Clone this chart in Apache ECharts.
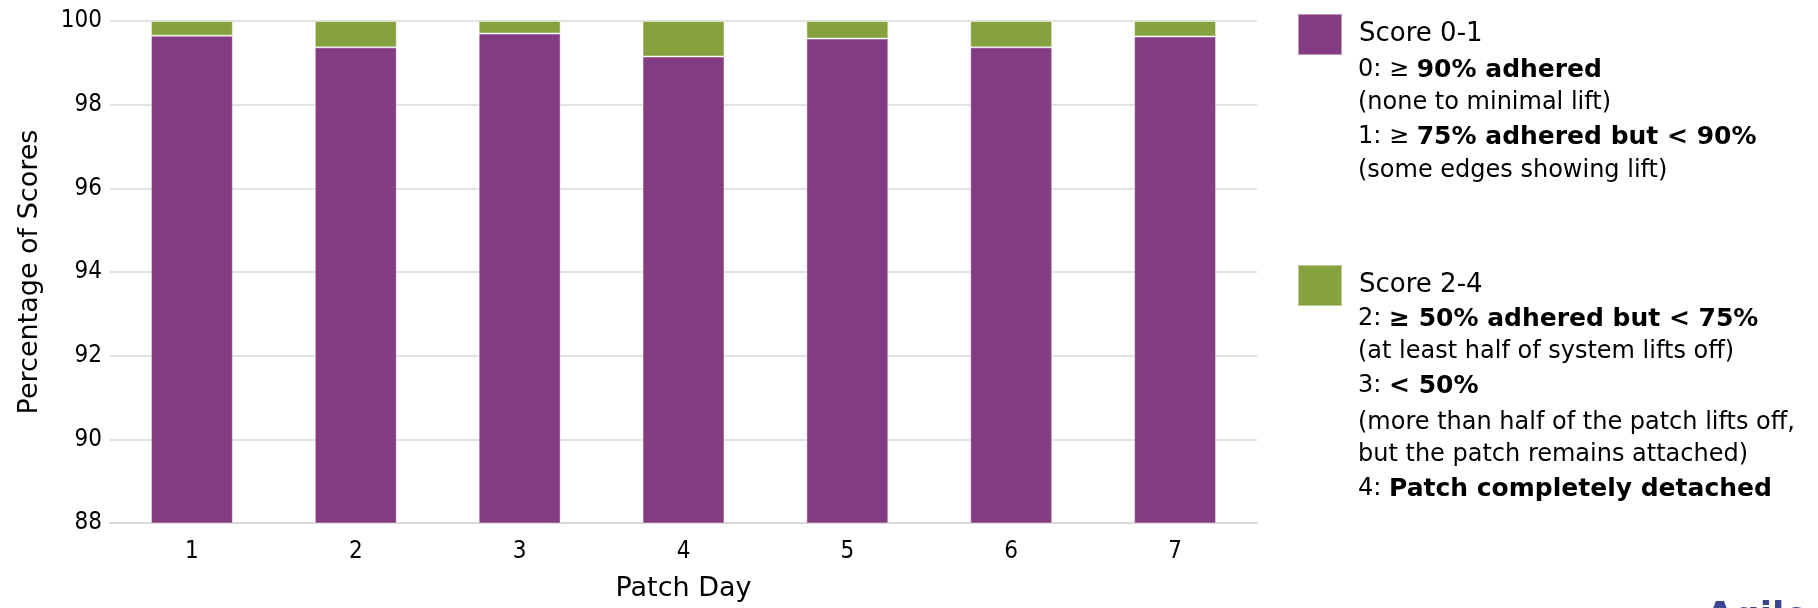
<!DOCTYPE html>
<html>
<head>
<meta charset="utf-8">
<script src="https://cdn.jsdelivr.net/npm/echarts@6/dist/echarts.min.js"></script>
<style>
  html, body { margin: 0; padding: 0; background: #fff; }
  #chart { width: 1818px; height: 608px; }
</style>
</head>
<body>
<div id="chart"></div>
<script>
// Patch adhesion scores by day (percent of all scores)
const patchDays = ['1', '2', '3', '4', '5', '6', '7'];
const score01 = [99.65, 99.37, 99.70, 99.15, 99.58, 99.37, 99.63];
const score24 = [0.35, 0.63, 0.30, 0.85, 0.42, 0.63, 0.37];

const yMin = 88, yMax = 100, yStep = 2;

const seriesNames = ['Score 0-1', 'Score 2-4'];
const seriesColors = ['#833C82', '#86A23F'];

// Legend descriptions: [text with rich tags, centre y]
const notes01 = [
  ['{n|0: ≥ }{b|90% adhered}', 70],
  ['{s|(none to minimal lift)}', 103],
  ['{n|1: ≥ }{b|75% adhered but < 90%}', 137],
  ['{s|(some edges showing lift)}', 171]
];
const notes24 = [
  ['{n|2: }{b|≥ 50% adhered but < 75%}', 319],
  ['{s|(at least half of system lifts off)}', 352],
  ['{n|3: }{b|< 50%}', 386],
  ['{s|(more than half of the patch lifts off,}', 423],
  ['{s|but the patch remains attached)}', 455],
  ['{n|4: }{b|Patch completely detached}', 489]
];

const FONT = 'DejaVu Sans';
const NARROW = "'Liberation Sans Narrow', 'DejaVu Sans Condensed', sans-serif";
const richStyles = {
  n: { fontFamily: FONT, fontSize: 24, fill: '#000', color: '#000' },
  b: { fontFamily: FONT, fontSize: 25, fontWeight: 'bold', fill: '#000', color: '#000' },
  s: { fontFamily: FONT, fontSize: 24, fill: '#000', color: '#000' }
};

function noteGraphics(list) {
  return list.map(([txt, y]) => ({
    type: 'text',
    x: 1358,
    y: y,
    style: {
      text: txt,
      rich: richStyles,
      verticalAlign: 'middle',
      align: 'left'
    }
  }));
}

const chart = echarts.init(document.getElementById('chart'), null, { renderer: 'canvas' });

const legendBase = {
  orient: 'vertical',
  left: 1297,
  padding: 0,
  icon: 'rect',
  itemWidth: 44,
  itemHeight: 41,
  selectedMode: false,
  textStyle: { fontFamily: FONT, fontSize: 26, color: '#000', padding: [0, 0, 0, 12] }
};

chart.setOption({
  animation: false,
  backgroundColor: '#fff',
  color: seriesColors,
  grid: { left: 110, right: 561, top: 21, bottom: 85 },
  legend: [
    Object.assign({}, legendBase, { top: 13, data: [seriesNames[0]] }),
    Object.assign({}, legendBase, { top: 264, data: [seriesNames[1]] })
  ],
  xAxis: {
    type: 'category',
    data: patchDays,
    name: 'Patch Day',
    nameLocation: 'middle',
    nameGap: 52,
    nameTextStyle: { fontFamily: FONT, fontSize: 27, color: '#000' },
    axisTick: { show: false },
    axisLine: { show: true, lineStyle: { color: '#D9D9D9', width: 2 } },
    axisLabel: { fontFamily: NARROW, fontSize: 24, color: '#000', margin: 17 }
  },
  yAxis: {
    type: 'value',
    min: yMin,
    max: yMax,
    interval: yStep,
    name: 'Percentage of Scores',
    nameLocation: 'middle',
    nameGap: 67,
    nameTextStyle: { fontFamily: FONT, fontSize: 27, color: '#000' },
    axisLine: { show: false },
    axisTick: { show: false },
    axisLabel: { fontFamily: NARROW, fontSize: 24, color: '#000', margin: 8 },
    splitLine: { lineStyle: { color: '#D9D9D9', width: 1.5 } }
  },
  series: [
    {
      name: seriesNames[0],
      type: 'bar',
      stack: 'total',
      barWidth: '50%',
      data: score01,
      itemStyle: { color: seriesColors[0], borderColor: 'rgba(255,255,255,0.45)', borderWidth: 1 }
    },
    {
      name: seriesNames[1],
      type: 'bar',
      stack: 'total',
      barWidth: '50%',
      data: score24,
      itemStyle: { color: seriesColors[1], borderColor: 'rgba(255,255,255,0.45)', borderWidth: 1 }
    }
  ],
  graphic: [
    ...noteGraphics(notes01),
    ...noteGraphics(notes24),
    {
      type: 'text',
      x: 1706,
      y: 600,
      style: {
        text: 'Agile',
        fontFamily: FONT,
        fontSize: 36,
        fontWeight: 'bold',
        fill: '#3A478E',
        verticalAlign: 'top',
        align: 'left'
      }
    }
  ]
});
</script>
</body>
</html>
